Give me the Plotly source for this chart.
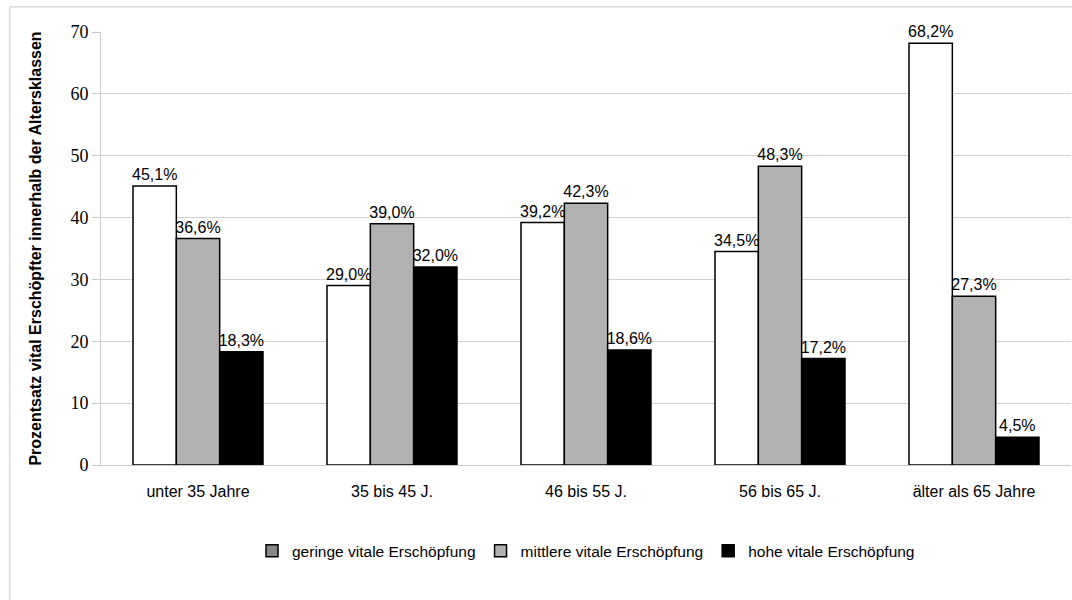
import plotly.graph_objects as go

categories = ["unter 35 Jahre", "35 bis 45 J.", "46 bis 55 J.", "56 bis 65 J.", "älter als 65 Jahre"]
series_names = ["geringe vitale Erschöpfung", "mittlere vitale Erschöpfung", "hohe vitale Erschöpfung"]
geringe = [45.1, 29.0, 39.2, 34.5, 68.2]
mittlere = [36.6, 39.0, 42.3, 48.3, 27.3]
hohe = [18.3, 32.0, 18.6, 17.2, 4.5]
y_ticks = [0, 10, 20, 30, 40, 50, 60, 70]

bar_colors = ["#ffffff", "#b2b2b2", "#000000"]
legend_colors = ["#888888", "#b2b2b2", "#000000"]

SANS = "Liberation Sans"
SERIF = "'Liberation Serif', 'DejaVu Serif', serif"

def fmt(v):
    return f"{v:.1f}".replace(".", ",") + "%"

fig = go.Figure()
for i, (name, vals, col) in enumerate(zip(series_names, [geringe, mittlere, hohe], bar_colors)):
    fig.add_trace(go.Bar(
        x=categories, y=vals, name=name, showlegend=False, offsetgroup=str(i),
        marker=dict(color=col, line=dict(color="#000000", width=1.5)),
        text=[fmt(v) for v in vals], textposition="outside", constraintext="none",
        outsidetextfont=dict(family=SANS, size=16, color="#000000"),
        cliponaxis=False,
    ))
for i, (name, col) in enumerate(zip(series_names, legend_colors)):
    fig.add_trace(go.Bar(
        x=[categories[0]], y=[None], name=name, offsetgroup=str(i),
        marker=dict(color=col, line=dict(color="#000000", width=1.5)),
        hoverinfo="skip",
    ))

fig.update_layout(
    width=1072, height=600,
    margin=dict(l=101, r=1, t=32, b=135),
    paper_bgcolor="#ffffff", plot_bgcolor="#ffffff",
    barmode="group", bargap=0.33, bargroupgap=0,
    showlegend=True,
    legend=dict(orientation="h", x=0.5, xanchor="center", y=-0.16, yanchor="top",
                font=dict(family=SANS, size=15.5, color="#000000"),
                itemwidth=30, traceorder="normal"),
    xaxis=dict(
        showline=True, linecolor="#c8c8c8", ticks="outside", ticklen=12, tickcolor="rgba(0,0,0,0)",
        showgrid=False,
        tickfont=dict(family=SANS, size=16, color="#000000"),
    ),
    yaxis=dict(
        range=[0, 70], tickvals=y_ticks, ticks="outside", ticklen=8, tickcolor="#c8c8c8",
        showline=True, linecolor="#c8c8c8", linewidth=1,
        showgrid=True, gridcolor="#d0d0d0", gridwidth=1, zeroline=False,
        tickfont=dict(family=SERIF, size=18, color="#000000"),
        title=dict(text="<b>Prozentsatz vital Erschöpfter innerhalb der Altersklassen</b>",
                   font=dict(family=SANS, size=16, color="#000000"),
                   standoff=24),
    ),
    shapes=[dict(type="rect", xref="paper", yref="paper",
                 x0=-0.094, x1=1.2, y0=-0.6, y1=1.058,
                 line=dict(color="#c8c8c8", width=1), fillcolor="rgba(0,0,0,0)", layer="below")],
)

fig.write_html("out.html")
